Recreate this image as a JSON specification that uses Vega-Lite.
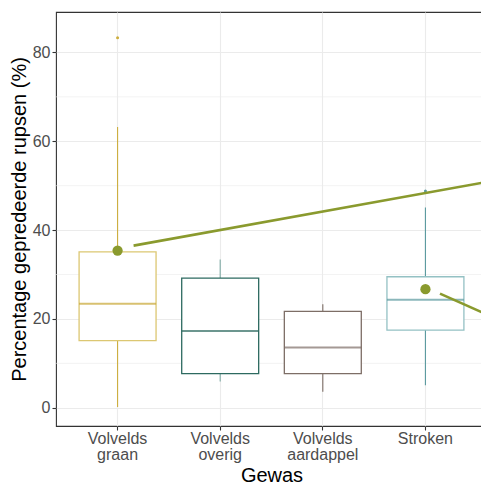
{
  "$schema": "https://vega.github.io/schema/vega-lite/v6.json",
  "width": 431,
  "height": 414,
  "autosize": "none",
  "padding": {"left": 56, "top": 12, "right": 0, "bottom": 58},
  "background": "white",
  "config": {
    "font": "Liberation Sans",
    "view": {"stroke": "#333333", "strokeWidth": 1.1},
    "axis": {
      "domain": false,
      "grid": true,
      "gridColor": "#EBEBEB",
      "gridWidth": 1.1,
      "tickColor": "#333333",
      "tickSize": 4,
      "tickWidth": 1.1,
      "labelColor": "#4D4D4D",
      "labelFont": "Liberation Sans",
      "labelFontSize": 16,
      "titleFont": "Liberation Sans",
      "titleFontSize": 20,
      "titleFontWeight": "normal",
      "titleColor": "#000000"
    }
  },
  "datasets": {
    "stats": [
      {"Gewas": "Volvelds graan", "lower": 0.2, "q1": 15.1, "median": 23.4, "q3": 35.1, "upper": 63.2},
      {"Gewas": "Volvelds overig", "lower": 5.9, "q1": 7.7, "median": 17.3, "q3": 29.2, "upper": 33.4},
      {"Gewas": "Volvelds aardappel", "lower": 3.6, "q1": 7.7, "median": 13.6, "q3": 21.7, "upper": 23.3},
      {"Gewas": "Stroken", "lower": 5.1, "q1": 17.5, "median": 24.3, "q3": 29.5, "upper": 45.1}
    ],
    "means": [
      {"Gewas": "Volvelds graan", "mean": 35.4},
      {"Gewas": "Stroken", "mean": 26.7}
    ],
    "outliers": [
      {"Gewas": "Volvelds graan", "v": 83.3},
      {"Gewas": "Stroken", "v": 48.8}
    ],
    "minor": [{"y": 10}, {"y": 30}, {"y": 50}, {"y": 70}],
    "lines": [
      {"g": "a", "px": 1.156, "pct": 36.5},
      {"g": "a", "px": 4.6, "pct": 50.85},
      {"g": "b", "px": 4.142, "pct": 25.7},
      {"g": "b", "px": 4.6, "pct": 21.0}
    ]
  },
  "layer": [
    {
      "layer": [
        {
          "data": {"name": "minor"},
          "mark": {"type": "rule", "color": "#EBEBEB", "strokeWidth": 0.6},
          "encoding": {
            "y": {"field": "y", "type": "quantitative", "title": "Percentage gepredeerde rupsen (%)",
                  "scale": {"domain": [-4.1, 89.1], "nice": false, "zero": false}}
          }
        },
        {
          "data": {"name": "stats"},
          "mark": {"type": "rule", "strokeWidth": 1.1},
          "encoding": {
            "x": {"field": "Gewas", "type": "nominal", "sort": null, "title": "Gewas",
                  "scale": {"paddingInner": 0, "paddingOuter": 0.1},
                  "axis": {"labelAngle": 0, "labelExpr": "split(datum.label, ' ')", "bandPosition": 0.5,
                           "labelPadding": 0, "labelLineHeight": 16, "titlePadding": 3}},
            "y": {"field": "lower", "type": "quantitative", "title": "Percentage gepredeerde rupsen (%)",
                  "scale": {"domain": [-4.1, 89.1], "nice": false, "zero": false},
                  "axis": {"values": [0, 20, 40, 60, 80], "labelPadding": 2, "titlePadding": 3}},
            "y2": {"field": "upper"},
            "color": {"field": "Gewas", "type": "nominal", "legend": null,
                      "scale": {"domain": ["Volvelds graan", "Volvelds overig", "Volvelds aardappel", "Stroken"],
                                "range": ["#CDAE3E", "#7EAAA4", "#7D6E66", "#5A999E"]}}
          }
        },
        {
          "data": {"name": "stats"},
          "mark": {"type": "bar", "width": {"band": 0.75}, "fill": "white", "strokeWidth": 1.3},
          "encoding": {
            "x": {"field": "Gewas", "type": "nominal", "sort": null, "title": "Gewas"},
            "y": {"field": "q1", "type": "quantitative", "title": "Percentage gepredeerde rupsen (%)",
                  "scale": {"domain": [-4.1, 89.1], "nice": false, "zero": false}},
            "y2": {"field": "q3"},
            "stroke": {"field": "Gewas", "type": "nominal", "legend": null,
                       "scale": {"domain": ["Volvelds graan", "Volvelds overig", "Volvelds aardappel", "Stroken"],
                                 "range": ["#DCC772", "#2D6A60", "#7D6E66", "#94C1C4"]}}
          }
        },
        {
          "data": {"name": "stats"},
          "mark": {"type": "tick", "size": 77, "thickness": 2},
          "encoding": {
            "x": {"field": "Gewas", "type": "nominal", "sort": null, "title": "Gewas"},
            "y": {"field": "median", "type": "quantitative", "title": "Percentage gepredeerde rupsen (%)",
                  "scale": {"domain": [-4.1, 89.1], "nice": false, "zero": false}},
            "color": {"field": "Gewas", "type": "nominal", "legend": null,
                      "scale": {"domain": ["Volvelds graan", "Volvelds overig", "Volvelds aardappel", "Stroken"],
                                "range": ["#C8A733", "#2D6A60", "#7D6E66", "#5A999E"]}}
          }
        },
        {
          "data": {"name": "outliers"},
          "mark": {"type": "circle", "size": 9, "opacity": 1},
          "encoding": {
            "x": {"field": "Gewas", "type": "nominal", "sort": null, "title": "Gewas"},
            "y": {"field": "v", "type": "quantitative", "title": "Percentage gepredeerde rupsen (%)",
                  "scale": {"domain": [-4.1, 89.1], "nice": false, "zero": false}},
            "color": {"field": "Gewas", "type": "nominal", "legend": null,
                      "scale": {"domain": ["Volvelds graan", "Volvelds overig", "Volvelds aardappel", "Stroken"],
                                "range": ["#CDAE3E", "#7EAAA4", "#7D6E66", "#5A999E"]}}
          }
        },
        {
          "data": {"name": "means"},
          "mark": {"type": "circle", "size": 105, "opacity": 1, "color": "#8A9A2E"},
          "encoding": {
            "x": {"field": "Gewas", "type": "nominal", "sort": null, "title": "Gewas"},
            "y": {"field": "mean", "type": "quantitative", "title": "Percentage gepredeerde rupsen (%)",
                  "scale": {"domain": [-4.1, 89.1], "nice": false, "zero": false}}
          }
        }
      ],
      "resolve": {"scale": {"color": "independent", "stroke": "independent"}}
    },
    {
      "data": {"name": "lines"},
      "mark": {"type": "line", "clip": true, "strokeWidth": 2.6, "color": "#8A9A2E"},
      "encoding": {
        "x": {"field": "px", "type": "quantitative", "axis": null,
              "scale": {"domain": [0.4, 4.6], "nice": false, "zero": false}},
        "y": {"field": "pct", "type": "quantitative", "title": "Percentage gepredeerde rupsen (%)",
              "scale": {"domain": [-4.1, 89.1], "nice": false, "zero": false}},
        "detail": {"field": "g", "type": "nominal"}
      }
    }
  ],
  "resolve": {"scale": {"x": "independent"}}
}
